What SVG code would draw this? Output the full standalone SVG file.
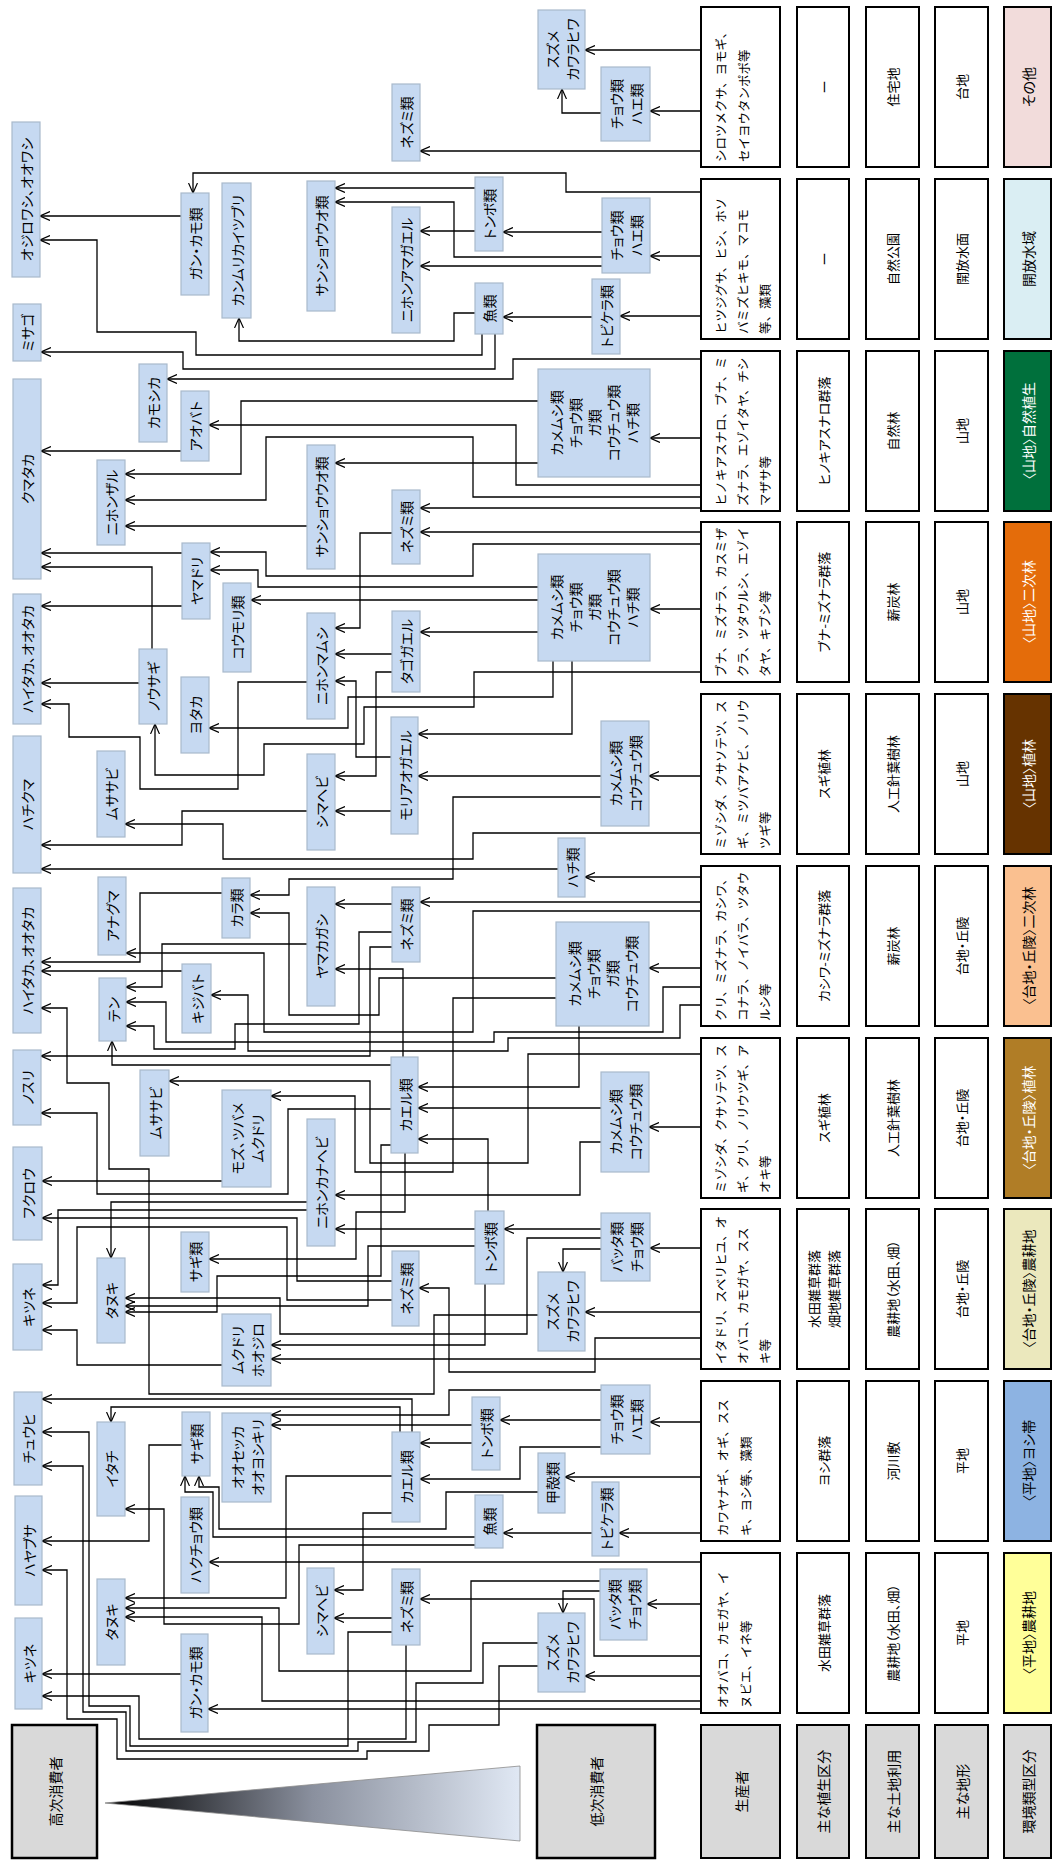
<svg xmlns="http://www.w3.org/2000/svg" width="1055" height="1861" viewBox="0 0 1055 1861">
<defs>
<marker id="ah" viewBox="0 0 10 10" refX="10" refY="5" markerWidth="10" markerHeight="10" markerUnits="userSpaceOnUse" orient="auto"><path d="M0,0.5 L10,5 L0,9.5" fill="none" stroke="#000" stroke-width="1.2"/></marker>
<linearGradient id="tri" gradientUnits="userSpaceOnUse" x1="105" y1="0" x2="520" y2="0"><stop offset="0" stop-color="#000"/><stop offset="0.5" stop-color="#8a909e"/><stop offset="1" stop-color="#e0e8f4"/></linearGradient>
<style>
text,tspan{dominant-baseline:central;font-family:"Noto Sans CJK JP","Noto Sans",sans-serif;font-feature-settings:"palt"}
.node rect{fill:#c6d9f1;stroke:#a9b9cc;stroke-width:1.2}
.node text{font-size:14px;fill:#000;text-anchor:middle}
.cell{fill:#fff;stroke:#000;stroke-width:2}
.lbl{fill:#d9d9d9;stroke:#000;stroke-width:2}
.ct{font-size:13px;text-anchor:middle;fill:#000}
.et{font-size:14px;text-anchor:middle;fill:#000}
.wt{fill:#fff}
.pt,.pt tspan{font-size:12.5px;text-anchor:start;fill:#000;font-feature-settings:normal}
#conn path{fill:none;stroke:#000;stroke-width:1.3;marker-end:url(#ah)}
</style>
</defs>
<rect width="1055" height="1861" fill="#fff"/>

<!-- table -->
<g id="table">
<g id="row0"><rect class="cell" x="701" y="7" width="79" height="160"/><text class="pt" transform="translate(720,162) rotate(-90)"><tspan x="0" y="0">シロツメクサ、ヨモギ、</tspan><tspan x="0" y="23">セイヨウタンポポ等</tspan></text>
<rect class="cell" x="797" y="7" width="52" height="160"/><text class="ct" transform="translate(823,87) rotate(-90)">ー</text>
<rect class="cell" x="866" y="7" width="53" height="160"/><text class="ct" transform="translate(892.5,87) rotate(-90)">住宅地</text>
<rect class="cell" x="935" y="7" width="53" height="160"/><text class="ct" transform="translate(961.5,87) rotate(-90)">台地</text>
<rect class="cell" x="1004" y="7" width="47" height="160" style="fill:#f2dcdb"/><text class="et" transform="translate(1027.5,87) rotate(-90)">その他</text></g>

<g id="row1"><rect class="cell" x="701" y="179" width="79" height="160"/><text class="pt" transform="translate(720,334) rotate(-90)"><tspan x="0" y="0">ヒツジグサ、ヒシ、ホソ</tspan><tspan x="0" y="22">バミズヒキモ、マコモ</tspan><tspan x="0" y="44">等、藻類</tspan></text>
<rect class="cell" x="797" y="179" width="52" height="160"/><text class="ct" transform="translate(823,259) rotate(-90)">ー</text>
<rect class="cell" x="866" y="179" width="53" height="160"/><text class="ct" transform="translate(892.5,259) rotate(-90)">自然公園</text>
<rect class="cell" x="935" y="179" width="53" height="160"/><text class="ct" transform="translate(961.5,259) rotate(-90)">開放水面</text>
<rect class="cell" x="1004" y="179" width="47" height="160" style="fill:#daeef3"/><text class="et" transform="translate(1027.5,259) rotate(-90)">開放水域</text></g>

<g id="row2"><rect class="cell" x="701" y="351" width="79" height="160"/><text class="pt" transform="translate(720,506) rotate(-90)"><tspan x="0" y="0">ヒノキアスナロ、ブナ、ミ</tspan><tspan x="0" y="22">ズナラ、エゾイタヤ、チシ</tspan><tspan x="0" y="44">マザサ等</tspan></text>
<rect class="cell" x="797" y="351" width="52" height="160"/><text class="ct" transform="translate(823,431) rotate(-90)">ヒノキアスナロ群落</text>
<rect class="cell" x="866" y="351" width="53" height="160"/><text class="ct" transform="translate(892.5,431) rotate(-90)">自然林</text>
<rect class="cell" x="935" y="351" width="53" height="160"/><text class="ct" transform="translate(961.5,431) rotate(-90)">山地</text>
<rect class="cell" x="1004" y="351" width="47" height="160" style="fill:#00703c"/><text class="et wt" transform="translate(1027.5,431) rotate(-90)">〈山地〉自然植生</text></g>

<g id="row3"><rect class="cell" x="701" y="522" width="79" height="160"/><text class="pt" transform="translate(720,677) rotate(-90)"><tspan x="0" y="0">ブナ、ミズナラ、カスミザ</tspan><tspan x="0" y="22">クラ、ツタウルシ、エゾイ</tspan><tspan x="0" y="44">タヤ、キブシ等</tspan></text>
<rect class="cell" x="797" y="522" width="52" height="160"/><text class="ct" transform="translate(823,602) rotate(-90)">ブナ-ミズナラ群落</text>
<rect class="cell" x="866" y="522" width="53" height="160"/><text class="ct" transform="translate(892.5,602) rotate(-90)">薪炭林</text>
<rect class="cell" x="935" y="522" width="53" height="160"/><text class="ct" transform="translate(961.5,602) rotate(-90)">山地</text>
<rect class="cell" x="1004" y="522" width="47" height="160" style="fill:#e46c0a"/><text class="et wt" transform="translate(1027.5,602) rotate(-90)">〈山地〉二次林</text></g>

<g id="row4"><rect class="cell" x="701" y="694" width="79" height="160"/><text class="pt" transform="translate(720,849) rotate(-90)"><tspan x="0" y="0">ミゾシダ、クサソテツ、ス</tspan><tspan x="0" y="22">ギ、ミツバアケビ、ノリウ</tspan><tspan x="0" y="44">ツギ等</tspan></text>
<rect class="cell" x="797" y="694" width="52" height="160"/><text class="ct" transform="translate(823,774) rotate(-90)">スギ植林</text>
<rect class="cell" x="866" y="694" width="53" height="160"/><text class="ct" transform="translate(892.5,774) rotate(-90)">人工針葉樹林</text>
<rect class="cell" x="935" y="694" width="53" height="160"/><text class="ct" transform="translate(961.5,774) rotate(-90)">山地</text>
<rect class="cell" x="1004" y="694" width="47" height="160" style="fill:#663300"/><text class="et wt" transform="translate(1027.5,774) rotate(-90)">〈山地〉植林</text></g>

<g id="row5"><rect class="cell" x="701" y="866" width="79" height="160"/><text class="pt" transform="translate(720,1021) rotate(-90)"><tspan x="0" y="0">クリ、ミズナラ、カシワ、</tspan><tspan x="0" y="22">コナラ、ノイバラ、ツタウ</tspan><tspan x="0" y="44">ルシ等</tspan></text>
<rect class="cell" x="797" y="866" width="52" height="160"/><text class="ct" transform="translate(823,946) rotate(-90)">カシワ-ミズナラ群落</text>
<rect class="cell" x="866" y="866" width="53" height="160"/><text class="ct" transform="translate(892.5,946) rotate(-90)">薪炭林</text>
<rect class="cell" x="935" y="866" width="53" height="160"/><text class="ct" transform="translate(961.5,946) rotate(-90)">台地・丘陵</text>
<rect class="cell" x="1004" y="866" width="47" height="160" style="fill:#fac090"/><text class="et" transform="translate(1027.5,946) rotate(-90)">〈台地・丘陵〉二次林</text></g>

<g id="row6"><rect class="cell" x="701" y="1038" width="79" height="160"/><text class="pt" transform="translate(720,1193) rotate(-90)"><tspan x="0" y="0">ミゾシダ、クサソテツ、ス</tspan><tspan x="0" y="22">ギ、クリ、ノリウツギ、ア</tspan><tspan x="0" y="44">オキ等</tspan></text>
<rect class="cell" x="797" y="1038" width="52" height="160"/><text class="ct" transform="translate(823,1118) rotate(-90)">スギ植林</text>
<rect class="cell" x="866" y="1038" width="53" height="160"/><text class="ct" transform="translate(892.5,1118) rotate(-90)">人工針葉樹林</text>
<rect class="cell" x="935" y="1038" width="53" height="160"/><text class="ct" transform="translate(961.5,1118) rotate(-90)">台地・丘陵</text>
<rect class="cell" x="1004" y="1038" width="47" height="160" style="fill:#b07d26"/><text class="et wt" transform="translate(1027.5,1118) rotate(-90)">〈台地・丘陵〉植林</text></g>

<g id="row7"><rect class="cell" x="701" y="1209" width="79" height="160"/><text class="pt" transform="translate(720,1364) rotate(-90)"><tspan x="0" y="0">イタドリ、スベリヒユ、オ</tspan><tspan x="0" y="22">オバコ、カモガヤ、スス</tspan><tspan x="0" y="44">キ等</tspan></text>
<rect class="cell" x="797" y="1209" width="52" height="160"/><text class="ct" transform="translate(823,1289) rotate(-90)"><tspan x="0" y="-10">水田雑草群落</tspan><tspan x="0" y="10">畑地雑草群落</tspan></text>
<rect class="cell" x="866" y="1209" width="53" height="160"/><text class="ct" transform="translate(892.5,1289) rotate(-90)">農耕地（水田、畑）</text>
<rect class="cell" x="935" y="1209" width="53" height="160"/><text class="ct" transform="translate(961.5,1289) rotate(-90)">台地・丘陵</text>
<rect class="cell" x="1004" y="1209" width="47" height="160" style="fill:#ebe8bd"/><text class="et" transform="translate(1027.5,1289) rotate(-90)">〈台地・丘陵〉農耕地</text></g>

<g id="row8"><rect class="cell" x="701" y="1381" width="79" height="160"/><text class="pt" transform="translate(722,1536) rotate(-90)"><tspan x="0" y="0">カワヤナギ、オギ、スス</tspan><tspan x="0" y="23">キ、ヨシ等、藻類</tspan></text>
<rect class="cell" x="797" y="1381" width="52" height="160"/><text class="ct" transform="translate(823,1461) rotate(-90)">ヨシ群落</text>
<rect class="cell" x="866" y="1381" width="53" height="160"/><text class="ct" transform="translate(892.5,1461) rotate(-90)">河川敷</text>
<rect class="cell" x="935" y="1381" width="53" height="160"/><text class="ct" transform="translate(961.5,1461) rotate(-90)">平地</text>
<rect class="cell" x="1004" y="1381" width="47" height="160" style="fill:#8db3e2"/><text class="et" transform="translate(1027.5,1461) rotate(-90)">〈平地〉ヨシ帯</text></g>

<g id="row9"><rect class="cell" x="701" y="1553" width="79" height="160"/><text class="pt" transform="translate(722,1708) rotate(-90)"><tspan x="0" y="0">オオバコ、カモガヤ、イ</tspan><tspan x="0" y="23">ヌビエ、イネ等</tspan></text>
<rect class="cell" x="797" y="1553" width="52" height="160"/><text class="ct" transform="translate(823,1633) rotate(-90)">水田雑草群落</text>
<rect class="cell" x="866" y="1553" width="53" height="160"/><text class="ct" transform="translate(892.5,1633) rotate(-90)">農耕地（水田、畑）</text>
<rect class="cell" x="935" y="1553" width="53" height="160"/><text class="ct" transform="translate(961.5,1633) rotate(-90)">平地</text>
<rect class="cell" x="1004" y="1553" width="47" height="160" style="fill:#ffff99"/><text class="et" transform="translate(1027.5,1633) rotate(-90)">〈平地〉農耕地</text></g>

<g id="labels">
<rect class="lbl" x="701" y="1725" width="79" height="133"/><text class="et" transform="translate(740.5,1791.5) rotate(-90)">生産者</text>
<rect class="lbl" x="797" y="1725" width="52" height="133"/><text class="et" transform="translate(823,1791.5) rotate(-90)">主な植生区分</text>
<rect class="lbl" x="866" y="1725" width="53" height="133"/><text class="et" transform="translate(892.5,1791.5) rotate(-90)">主な土地利用</text>
<rect class="lbl" x="935" y="1725" width="53" height="133"/><text class="et" transform="translate(961.5,1791.5) rotate(-90)">主な地形</text>
<rect class="lbl" x="1004" y="1725" width="47" height="133"/><text class="et" transform="translate(1027.5,1791.5) rotate(-90)">環境類型区分</text>
<rect class="lbl" x="12" y="1725" width="85" height="133" style="stroke-width:2.5"/><text class="et" transform="translate(54.5,1791.5) rotate(-90)">高次消費者</text>
<rect class="lbl" x="537" y="1725" width="118" height="133" style="stroke-width:2.5"/><text class="et" transform="translate(596,1791.5) rotate(-90)">低次消費者</text>
<polygon points="105,1803 520,1766 520,1841" fill="url(#tri)" stroke="#8c8c8c" stroke-width="0.8"/>
</g>
</g>

<!-- connectors -->
<g id="conn">
<path d="M701,50 H585"/>
<path d="M701,111 H650"/>
<path d="M601,113 H562 V89"/>
<path d="M701,151 H420"/>
<path d="M701,192 H566 V173 H193 V193"/>
<path d="M475,188 H335"/>
<path d="M602,257 H454 V202 H335"/>
<path d="M602,232 H503"/>
<path d="M475,231 H420"/>
<path d="M602,266 H420"/>
<path d="M701,256 H650"/>
<path d="M181,216 H40"/>
<path d="M701,316 H620"/>
<path d="M592,317 H503"/>
<path d="M475,313 H454 V341 H239 V318"/>
<path d="M482,334 V355 H196 V332 H97 V240 H40"/>
<path d="M495,334 V369 H183 V352 H41"/>
<path d="M701,359 H513 V379 H167"/>
<path d="M701,438 H650"/>
<path d="M538,401 H241 V474 H125"/>
<path d="M701,485 H516 V425 H209"/>
<path d="M701,497 H473 V437 H266 V500 H125"/>
<path d="M538,463 H335"/>
<path d="M181,451 H41"/>
<path d="M307,526 H125"/>
<path d="M701,508 H420"/>
<path d="M701,532 H420"/>
<path d="M701,544 H473 V576 H266 V552 H210"/>
<path d="M182,553 H41"/>
<path d="M538,587 H258 V570 H210"/>
<path d="M538,600 H251"/>
<path d="M182,606 H41"/>
<path d="M152,649 V567 H41"/>
<path d="M392,533 H360 V628 H335"/>
<path d="M701,609 H650"/>
<path d="M538,632 H420"/>
<path d="M392,654 H335"/>
<path d="M139,683 H41"/>
<path d="M553,661 V697 H348 V728 H209"/>
<path d="M701,672 H474 V707 H364 V744 H264 V775 H155 V724"/>
<path d="M307,682 H238 V789 H140 V737 H69 V704 H41"/>
<path d="M391,757 H356 V681 H335"/>
<path d="M392,672 H376 V776 H335"/>
<path d="M572,661 V734 H418"/>
<path d="M701,776 H649"/>
<path d="M601,776 H418"/>
<path d="M601,797 H453 V879 H289 V895 H250"/>
<path d="M391,811 H335"/>
<path d="M307,811 H182 V845 H41"/>
<path d="M701,833 H473 V859 H223 V824 H125"/>
<path d="M558,869 H41"/>
<path d="M701,877 H585"/>
<path d="M701,902 H420"/>
<path d="M392,904 H335"/>
<path d="M222,893 H140 V962 H41"/>
<path d="M556,978 H379 V1015 H289 V913 H250"/>
<path d="M701,911 H473 V1032 H264 V953 H126"/>
<path d="M307,944 H162 V987 H126"/>
<path d="M182,971 H41"/>
<path d="M392,932 H359 V1024 H235 V1049 H154 V1026 H126"/>
<path d="M392,947 H370 V1056 H41"/>
<path d="M701,968 H649"/>
<path d="M403,1057 V969 H335"/>
<path d="M701,987 H663 V1032 H494 V1042 H166 V1002 H126"/>
<path d="M701,1005 H680 V1038 H508 V1051 H248 V995 H211"/>
<path d="M391,1065 H112 V1041"/>
<path d="M701,1054 H528 V1163 H370 V1081 H169"/>
<path d="M556,998 H453 V1172 H355 V1096 H271"/>
<path d="M579,1026 V1087 H418"/>
<path d="M601,1108 H418"/>
<path d="M391,1109 H288 V1194 H97 V1113 H41"/>
<path d="M538,1315 H434 V1394 H149 V1169 H109 V1083 H67 V1008 H41"/>
<path d="M701,1127 H649"/>
<path d="M601,1142 H580 V1195 H335"/>
<path d="M488,1211 V1139 H418"/>
<path d="M391,1145 H381 V1276 H217 V1312 H125"/>
<path d="M405,1153 V1212 H356 V1259 H209"/>
<path d="M222,1181 H42"/>
<path d="M475,1229 H335"/>
<path d="M601,1229 H504"/>
<path d="M307,1202 H111 V1258"/>
<path d="M307,1210 H58 V1285 H42"/>
<path d="M392,1281 H297 V1218 H42"/>
<path d="M392,1300 H287 V1227 H77 V1303 H42"/>
<path d="M601,1238 H527 V1334 H280 V1298 H125"/>
<path d="M475,1246 H368 V1306 H125"/>
<path d="M222,1365 H77 V1330 H42"/>
<path d="M601,1249 H563 V1272"/>
<path d="M701,1248 H650"/>
<path d="M701,1338 H595 V1372 H449 V1288 H419"/>
<path d="M701,1312 H585"/>
<path d="M485,1284 V1345 H271"/>
<path d="M701,1359 H271"/>
<path d="M412,1432 V1399 H42"/>
<path d="M400,1432 V1407 H111 V1422"/>
<path d="M601,1390 H449 V1415 H271"/>
<path d="M472,1425 H271"/>
<path d="M601,1420 H500"/>
<path d="M701,1422 H650"/>
<path d="M472,1443 H420"/>
<path d="M601,1447 H520 V1479 H420"/>
<path d="M701,1477 H565"/>
<path d="M392,1476 H286 V1598 H125"/>
<path d="M182,1445 H149 V1541 H42"/>
<path d="M538,1492 H446 V1529 H219 V1487 H199 V1476"/>
<path d="M475,1537 H213 V1492 H185 V1476"/>
<path d="M592,1533 H503"/>
<path d="M701,1533 H619"/>
<path d="M475,1545 H299 V1624 H164 V1509 H125"/>
<path d="M392,1513 H363 V1590 H334"/>
<path d="M701,1562 H209"/>
<path d="M701,1604 H647"/>
<path d="M600,1591 H563 V1613"/>
<path d="M600,1581 H471 V1671 H279 V1608 H125"/>
<path d="M701,1656 H594 V1599 H420"/>
<path d="M392,1618 H334"/>
<path d="M701,1676 H585"/>
<path d="M701,1701 H262 V1617 H125"/>
<path d="M701,1709 H208"/>
<path d="M181,1674 H42"/>
<path d="M406,1645 V1739 H139 V1696 H42"/>
<path d="M392,1632 H348 V1746 H130 V1706 H89 V1432 H42"/>
<path d="M538,1643 H483 V1683 H416 V1742 H358 V1751 H126 V1712 H83 V1466 H42"/>
<path d="M538,1666 H499 V1725 H429 V1751 H367 V1759 H117 V1719 H67 V1570 H42"/>
</g>

<!-- nodes -->
<g id="n01" class="node"><rect x="538" y="10" width="47" height="79"/><text transform="translate(561.5,49.5) rotate(-90)"><tspan x="0" y="-10">スズメ</tspan><tspan x="0" y="10">カワラヒワ</tspan></text></g>
<g id="n02" class="node"><rect x="601" y="67" width="49" height="74"/><text transform="translate(625.5,104) rotate(-90)"><tspan x="0" y="-10">チョウ類</tspan><tspan x="0" y="10">ハエ類</tspan></text></g>
<g id="n03" class="node"><rect x="392" y="84" width="28" height="77"/><text transform="translate(406,122.5) rotate(-90)">ネズミ類</text></g>
<g id="n04" class="node"><rect x="12" y="122" width="28" height="155"/><text transform="translate(26,199.5) rotate(-90)">オジロワシ、オオワシ</text></g>
<g id="n05" class="node"><rect x="181" y="193" width="28" height="102"/><text transform="translate(195,244) rotate(-90)">ガン・カモ類</text></g>
<g id="n06" class="node"><rect x="222" y="183" width="29" height="135"/><text transform="translate(236.5,250.5) rotate(-90)">カンムリカイツブリ</text></g>
<g id="n07" class="node"><rect x="307" y="181" width="28" height="130"/><text transform="translate(321,246) rotate(-90)">サンショウウオ類</text></g>
<g id="n08" class="node"><rect x="392" y="207" width="28" height="126"/><text transform="translate(406,270) rotate(-90)">ニホンアマガエル</text></g>
<g id="n09" class="node"><rect x="475" y="177" width="28" height="74"/><text transform="translate(489,214) rotate(-90)">トンボ類</text></g>
<g id="n10" class="node"><rect x="602" y="198" width="48" height="75"/><text transform="translate(626,235.5) rotate(-90)"><tspan x="0" y="-10">チョウ類</tspan><tspan x="0" y="10">ハエ類</tspan></text></g>
<g id="n11" class="node"><rect x="475" y="283" width="28" height="51"/><text transform="translate(489,308.5) rotate(-90)">魚類</text></g>
<g id="n12" class="node"><rect x="592" y="279" width="28" height="75"/><text transform="translate(606,316.5) rotate(-90)">トビケラ類</text></g>
<g id="n13" class="node"><rect x="13" y="304" width="28" height="57"/><text transform="translate(27,332.5) rotate(-90)">ミサゴ</text></g>
<g id="n14" class="node"><rect x="139" y="364" width="28" height="78"/><text transform="translate(153,403) rotate(-90)">カモシカ</text></g>
<g id="n15" class="node"><rect x="181" y="391" width="28" height="70"/><text transform="translate(195,426) rotate(-90)">アオバト</text></g>
<g id="n16" class="node"><rect x="13" y="379" width="28" height="200"/><text transform="translate(27,479) rotate(-90)">クマタカ</text></g>
<g id="n17" class="node"><rect x="97" y="460" width="28" height="85"/><text transform="translate(111,502.5) rotate(-90)">ニホンザル</text></g>
<g id="n18" class="node"><rect x="307" y="445" width="28" height="124"/><text transform="translate(321,507) rotate(-90)">サンショウウオ類</text></g>
<g id="n19" class="node"><rect x="538" y="369" width="112" height="108"/><text transform="translate(594,423) rotate(-90)"><tspan x="0" y="-38">カメムシ類</tspan><tspan x="0" y="-19">チョウ類</tspan><tspan x="0" y="0">ガ類</tspan><tspan x="0" y="19">コウチュウ類</tspan><tspan x="0" y="38">ハチ類</tspan></text></g>
<g id="n20" class="node"><rect x="392" y="490" width="28" height="74"/><text transform="translate(406,527) rotate(-90)">ネズミ類</text></g>
<g id="n21" class="node"><rect x="182" y="543" width="28" height="76"/><text transform="translate(196,581) rotate(-90)">ヤマドリ</text></g>
<g id="n22" class="node"><rect x="223" y="583" width="28" height="89"/><text transform="translate(237,627.5) rotate(-90)">コウモリ類</text></g>
<g id="n23" class="node"><rect x="13" y="594" width="28" height="130"/><text transform="translate(27,659) rotate(-90)">ハイタカ、オオタカ</text></g>
<g id="n24" class="node"><rect x="538" y="554" width="112" height="107"/><text transform="translate(594,607.5) rotate(-90)"><tspan x="0" y="-38">カメムシ類</tspan><tspan x="0" y="-19">チョウ類</tspan><tspan x="0" y="0">ガ類</tspan><tspan x="0" y="19">コウチュウ類</tspan><tspan x="0" y="38">ハチ類</tspan></text></g>
<g id="n25" class="node"><rect x="307" y="613" width="28" height="106"/><text transform="translate(321,666) rotate(-90)">ニホンマムシ</text></g>
<g id="n26" class="node"><rect x="392" y="611" width="28" height="81"/><text transform="translate(406,651.5) rotate(-90)">タゴガエル</text></g>
<g id="n27" class="node"><rect x="139" y="649" width="28" height="75"/><text transform="translate(153,686.5) rotate(-90)">ノウサギ</text></g>
<g id="n28" class="node"><rect x="181" y="677" width="28" height="76"/><text transform="translate(195,715) rotate(-90)">ヨタカ</text></g>
<g id="n29" class="node"><rect x="391" y="717" width="27" height="117"/><text transform="translate(404.5,775.5) rotate(-90)">モリアオガエル</text></g>
<g id="n30" class="node"><rect x="601" y="721" width="48" height="105"/><text transform="translate(625,773.5) rotate(-90)"><tspan x="0" y="-10">カメムシ類</tspan><tspan x="0" y="10">コウチュウ類</tspan></text></g>
<g id="n31" class="node"><rect x="13" y="736" width="28" height="137"/><text transform="translate(27,804.5) rotate(-90)">ハチクマ</text></g>
<g id="n32" class="node"><rect x="97" y="751" width="28" height="86"/><text transform="translate(111,794) rotate(-90)">ムササビ</text></g>
<g id="n33" class="node"><rect x="307" y="754" width="28" height="96"/><text transform="translate(321,802) rotate(-90)">シマヘビ</text></g>
<g id="n34" class="node"><rect x="558" y="838" width="27" height="59"/><text transform="translate(571.5,867.5) rotate(-90)">ハチ類</text></g>
<g id="n35" class="node"><rect x="98" y="877" width="28" height="78"/><text transform="translate(112,916) rotate(-90)">アナグマ</text></g>
<g id="n36" class="node"><rect x="222" y="878" width="28" height="60"/><text transform="translate(236,908) rotate(-90)">カラ類</text></g>
<g id="n37" class="node"><rect x="307" y="887" width="28" height="119"/><text transform="translate(321,946.5) rotate(-90)">ヤマカガシ</text></g>
<g id="n38" class="node"><rect x="392" y="887" width="28" height="75"/><text transform="translate(406,924.5) rotate(-90)">ネズミ類</text></g>
<g id="n39" class="node"><rect x="13" y="888" width="28" height="145"/><text transform="translate(27,960.5) rotate(-90)">ハイタカ、オオタカ</text></g>
<g id="n40" class="node"><rect x="556" y="922" width="93" height="104"/><text transform="translate(602.5,974) rotate(-90)"><tspan x="0" y="-28.5">カメムシ類</tspan><tspan x="0" y="-9.5">チョウ類</tspan><tspan x="0" y="9.5">ガ類</tspan><tspan x="0" y="28.5">コウチュウ類</tspan></text></g>
<g id="n41" class="node"><rect x="99" y="978" width="27" height="63"/><text transform="translate(112.5,1009.5) rotate(-90)">テン</text></g>
<g id="n42" class="node"><rect x="182" y="964" width="29" height="69"/><text transform="translate(196.5,998.5) rotate(-90)">キジバト</text></g>
<g id="n43" class="node"><rect x="13" y="1050" width="28" height="75"/><text transform="translate(27,1087.5) rotate(-90)">ノスリ</text></g>
<g id="n44" class="node"><rect x="140" y="1070" width="29" height="86"/><text transform="translate(154.5,1113) rotate(-90)">ムササビ</text></g>
<g id="n45" class="node"><rect x="222" y="1090" width="49" height="97"/><text transform="translate(246.5,1138.5) rotate(-90)"><tspan x="0" y="-10">モズ、ツバメ</tspan><tspan x="0" y="10">ムクドリ</tspan></text></g>
<g id="n46" class="node"><rect x="391" y="1057" width="27" height="96"/><text transform="translate(404.5,1105) rotate(-90)">カエル類</text></g>
<g id="n47" class="node"><rect x="601" y="1072" width="48" height="100"/><text transform="translate(625,1122) rotate(-90)"><tspan x="0" y="-10">カメムシ類</tspan><tspan x="0" y="10">コウチュウ類</tspan></text></g>
<g id="n48" class="node"><rect x="307" y="1119" width="28" height="127"/><text transform="translate(321,1182.5) rotate(-90)">ニホンカナヘビ</text></g>
<g id="n49" class="node"><rect x="13" y="1147" width="29" height="93"/><text transform="translate(27.5,1193.5) rotate(-90)">フクロウ</text></g>
<g id="n50" class="node"><rect x="13" y="1264" width="29" height="86"/><text transform="translate(27.5,1307) rotate(-90)">キツネ</text></g>
<g id="n51" class="node"><rect x="181" y="1232" width="28" height="60"/><text transform="translate(195,1262) rotate(-90)">サギ類</text></g>
<g id="n52" class="node"><rect x="97" y="1258" width="28" height="85"/><text transform="translate(111,1300.5) rotate(-90)">タヌキ</text></g>
<g id="n53" class="node"><rect x="475" y="1211" width="29" height="73"/><text transform="translate(489.5,1247.5) rotate(-90)">トンボ類</text></g>
<g id="n54" class="node"><rect x="601" y="1213" width="49" height="68"/><text transform="translate(625.5,1247) rotate(-90)"><tspan x="0" y="-10">バッタ類</tspan><tspan x="0" y="10">チョウ類</tspan></text></g>
<g id="n55" class="node"><rect x="392" y="1251" width="27" height="75"/><text transform="translate(405.5,1288.5) rotate(-90)">ネズミ類</text></g>
<g id="n56" class="node"><rect x="538" y="1272" width="47" height="79"/><text transform="translate(561.5,1311.5) rotate(-90)"><tspan x="0" y="-10">スズメ</tspan><tspan x="0" y="10">カワラヒワ</tspan></text></g>
<g id="n57" class="node"><rect x="222" y="1314" width="49" height="72"/><text transform="translate(246.5,1350) rotate(-90)"><tspan x="0" y="-10">ムクドリ</tspan><tspan x="0" y="10">ホオジロ</tspan></text></g>
<g id="n58" class="node"><rect x="14" y="1392" width="28" height="93"/><text transform="translate(28,1438.5) rotate(-90)">チュウヒ</text></g>
<g id="n59" class="node"><rect x="97" y="1422" width="28" height="94"/><text transform="translate(111,1469) rotate(-90)">イタチ</text></g>
<g id="n60" class="node"><rect x="182" y="1412" width="28" height="64"/><text transform="translate(196,1444) rotate(-90)">サギ類</text></g>
<g id="n61" class="node"><rect x="222" y="1413" width="49" height="89"/><text transform="translate(246.5,1457.5) rotate(-90)"><tspan x="0" y="-10">オオセッカ</tspan><tspan x="0" y="10">オオヨシキリ</tspan></text></g>
<g id="n62" class="node"><rect x="392" y="1432" width="28" height="90"/><text transform="translate(406,1477) rotate(-90)">カエル類</text></g>
<g id="n63" class="node"><rect x="472" y="1397" width="28" height="73"/><text transform="translate(486,1433.5) rotate(-90)">トンボ類</text></g>
<g id="n64" class="node"><rect x="601" y="1385" width="49" height="69"/><text transform="translate(625.5,1419.5) rotate(-90)"><tspan x="0" y="-10">チョウ類</tspan><tspan x="0" y="10">ハエ類</tspan></text></g>
<g id="n65" class="node"><rect x="538" y="1453" width="27" height="60"/><text transform="translate(551.5,1483) rotate(-90)">甲殻類</text></g>
<g id="n66" class="node"><rect x="592" y="1482" width="27" height="74"/><text transform="translate(605.5,1519) rotate(-90)">トビケラ類</text></g>
<g id="n67" class="node"><rect x="15" y="1496" width="27" height="109"/><text transform="translate(28.5,1550.5) rotate(-90)">ハヤブサ</text></g>
<g id="n68" class="node"><rect x="15" y="1618" width="27" height="91"/><text transform="translate(28.5,1663.5) rotate(-90)">キツネ</text></g>
<g id="n69" class="node"><rect x="181" y="1497" width="28" height="96"/><text transform="translate(195,1545) rotate(-90)">ハクチョウ類</text></g>
<g id="n70" class="node"><rect x="475" y="1495" width="28" height="53"/><text transform="translate(489,1521.5) rotate(-90)">魚類</text></g>
<g id="n71" class="node"><rect x="97" y="1579" width="28" height="86"/><text transform="translate(111,1622) rotate(-90)">タヌキ</text></g>
<g id="n72" class="node"><rect x="307" y="1568" width="27" height="86"/><text transform="translate(320.5,1611) rotate(-90)">シマヘビ</text></g>
<g id="n73" class="node"><rect x="392" y="1569" width="28" height="76"/><text transform="translate(406,1607) rotate(-90)">ネズミ類</text></g>
<g id="n74" class="node"><rect x="600" y="1569" width="47" height="71"/><text transform="translate(623.5,1604.5) rotate(-90)"><tspan x="0" y="-10">バッタ類</tspan><tspan x="0" y="10">チョウ類</tspan></text></g>
<g id="n75" class="node"><rect x="538" y="1613" width="47" height="79"/><text transform="translate(561.5,1652.5) rotate(-90)"><tspan x="0" y="-10">スズメ</tspan><tspan x="0" y="10">カワラヒワ</tspan></text></g>
<g id="n76" class="node"><rect x="181" y="1634" width="27" height="98"/><text transform="translate(194.5,1683) rotate(-90)">ガン・カモ類</text></g>
</svg>
